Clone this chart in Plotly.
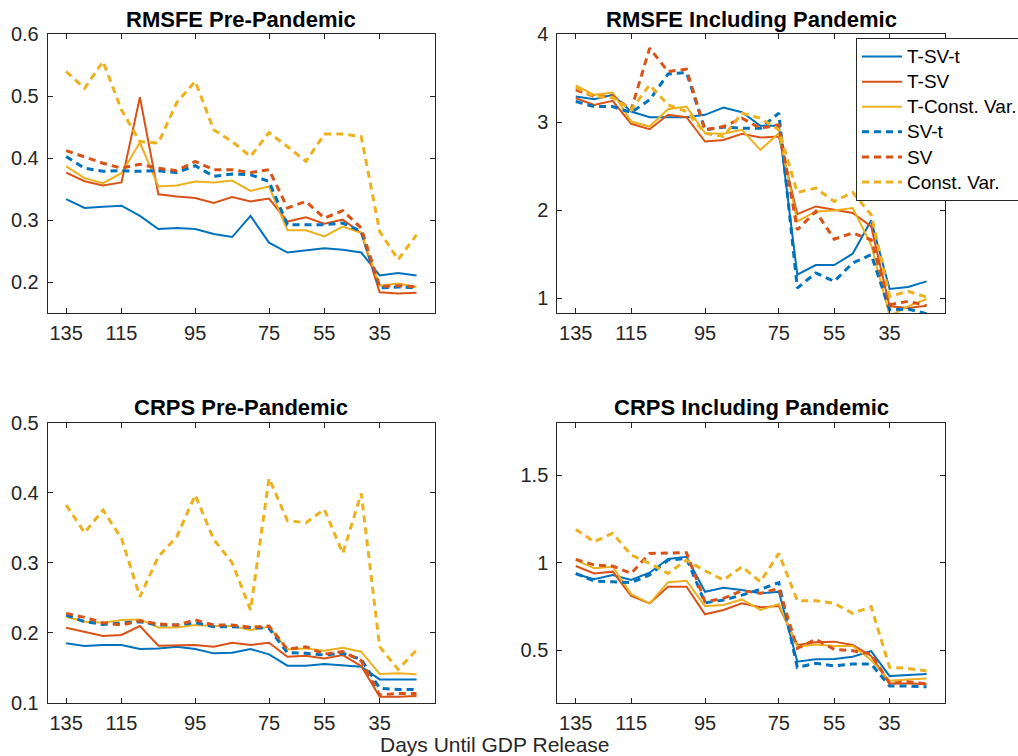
import plotly.graph_objects as go

# Forecast horizon: 20 nowcast origins, plotted by position
horizon_pos = list(range(1, 21))
tick_pos = [1, 4, 8, 12, 15, 18]
tick_days = ["135", "115", "95", "75", "55", "35"]

series_names = ["T-SV-t", "T-SV", "T-Const. Var.", "SV-t", "SV", "Const. Var."]

# RMSFE, pre-pandemic sample
rmsfe_pre_tsvt = [0.334, 0.320, 0.322, 0.3235, 0.307, 0.286, 0.2875, 0.286, 0.278, 0.273,
                  0.307, 0.264, 0.248, 0.2515, 0.255, 0.2525, 0.248, 0.211, 0.215, 0.211]
rmsfe_pre_tsv = [0.377, 0.363, 0.356, 0.361, 0.4985, 0.342, 0.3385, 0.336, 0.328, 0.3375,
                 0.3305, 0.335, 0.298, 0.305, 0.2945, 0.301, 0.2795, 0.184, 0.182, 0.183]
rmsfe_pre_tcv = [0.387, 0.368, 0.360, 0.376, 0.4255, 0.3545, 0.356, 0.3625, 0.361, 0.364,
                 0.3475, 0.3545, 0.284, 0.284, 0.274, 0.290, 0.2795, 0.1945, 0.198, 0.1925]
rmsfe_pre_svt = [0.403, 0.384, 0.379, 0.380, 0.379, 0.380, 0.377, 0.388, 0.371, 0.3745,
                 0.3735, 0.3625, 0.293, 0.293, 0.293, 0.2955, 0.282, 0.191, 0.1925, 0.191]
rmsfe_pre_sv = [0.4125, 0.402, 0.392, 0.384, 0.3905, 0.384, 0.380, 0.395, 0.3815, 0.3815,
                0.377, 0.3815, 0.320, 0.3305, 0.3035, 0.3155, 0.2875, 0.1935, 0.1945, 0.1925]
rmsfe_pre_cv = [0.540, 0.513, 0.556, 0.478, 0.427, 0.4245, 0.490, 0.524, 0.446, 0.427,
                0.403, 0.4415, 0.419, 0.395, 0.439, 0.439, 0.435, 0.282, 0.2365, 0.2765]

# RMSFE, sample including the pandemic
rmsfe_all_tsvt = [3.293, 3.263, 3.312, 3.123, 3.058, 3.058, 3.058, 3.085, 3.168, 3.115,
                  2.96, 2.96, 1.269, 1.378, 1.378, 1.507, 1.885, 1.106, 1.129, 1.193]
rmsfe_all_tsv = [3.274, 3.198, 3.244, 2.983, 2.922, 3.085, 3.058, 2.782, 2.80, 2.869,
                 2.827, 2.839, 1.957, 2.044, 2.006, 1.969, 1.817, 0.909, 0.89, 0.917]
rmsfe_all_tcv = [3.42, 3.312, 3.338, 3.009, 2.952, 3.149, 3.179, 2.877, 2.869, 2.915,
                 2.687, 2.877, 1.874, 1.987, 1.999, 2.025, 1.609, 0.80, 0.909, 0.992]
rmsfe_all_svt = [3.236, 3.179, 3.179, 3.111, 3.255, 3.55, 3.565, 2.915, 2.945, 2.933,
                 2.933, 3.104, 1.117, 1.288, 1.193, 1.401, 1.496, 0.871, 0.879, 0.826]
rmsfe_all_sv = [3.369, 3.293, 3.30, 3.141, 3.842, 3.577, 3.603, 2.915, 2.952, 3.047,
                2.933, 2.971, 1.779, 1.987, 1.673, 1.742, 1.666, 0.928, 0.966, 0.917]
rmsfe_all_cv = [3.399, 3.293, 3.281, 3.141, 3.425, 3.198, 3.123, 2.877, 2.839, 3.104,
                3.047, 2.915, 2.203, 2.252, 2.101, 2.203, 1.95, 1.023, 1.079, 1.015]

# CRPS, pre-pandemic sample
crps_pre_tsvt = [0.1848, 0.181, 0.1824, 0.1824, 0.1767, 0.1776, 0.180, 0.1767, 0.1705, 0.1714,
                 0.1767, 0.169, 0.1529, 0.1529, 0.1552, 0.1529, 0.1514, 0.1333, 0.1333, 0.1333]
crps_pre_tsv = [0.2071, 0.2014, 0.1952, 0.1967, 0.2095, 0.1814, 0.1814, 0.1824, 0.180, 0.1857,
                0.1824, 0.1857, 0.1657, 0.1671, 0.1633, 0.1681, 0.1524, 0.1086, 0.1086, 0.1095]
crps_pre_tcv = [0.2229, 0.2157, 0.2143, 0.2181, 0.219, 0.2076, 0.2076, 0.211, 0.2095, 0.2095,
                0.2038, 0.2086, 0.1762, 0.1776, 0.1743, 0.1786, 0.1729, 0.141, 0.1419, 0.1405]
crps_pre_svt = [0.2252, 0.2157, 0.2119, 0.2133, 0.2157, 0.211, 0.211, 0.2143, 0.2086, 0.2086,
                0.2076, 0.2062, 0.1714, 0.1705, 0.1681, 0.1705, 0.1619, 0.1205, 0.119, 0.119]
crps_pre_sv = [0.2276, 0.2219, 0.2143, 0.211, 0.2171, 0.2124, 0.211, 0.2181, 0.211, 0.211,
               0.2076, 0.2095, 0.1762, 0.180, 0.1695, 0.1729, 0.160, 0.111, 0.1133, 0.1133]
crps_pre_cv = [0.3824, 0.3429, 0.3752, 0.3348, 0.2514, 0.3086, 0.3371, 0.3967, 0.3333, 0.300,
               0.2324, 0.4205, 0.360, 0.3571, 0.3762, 0.3133, 0.399, 0.180, 0.1476, 0.1752]

# CRPS, sample including the pandemic
crps_all_tsvt = [0.935, 0.905, 0.93, 0.901, 0.943, 1.021, 1.034, 0.834, 0.857, 0.844,
                 0.825, 0.834, 0.434, 0.448, 0.45, 0.463, 0.495, 0.352, 0.358, 0.364]
crps_all_tsv = [0.981, 0.939, 0.949, 0.81, 0.768, 0.863, 0.863, 0.705, 0.73, 0.768,
                0.745, 0.752, 0.53, 0.545, 0.549, 0.53, 0.467, 0.31, 0.31, 0.307]
crps_all_tcv = [1.015, 0.968, 0.977, 0.821, 0.768, 0.888, 0.897, 0.752, 0.758, 0.79,
                0.73, 0.764, 0.52, 0.533, 0.524, 0.524, 0.444, 0.326, 0.333, 0.339]
crps_all_svt = [0.939, 0.895, 0.891, 0.886, 0.93, 1.015, 1.025, 0.771, 0.787, 0.815,
                0.848, 0.886, 0.402, 0.425, 0.41, 0.421, 0.421, 0.295, 0.295, 0.291]
crps_all_sv = [1.019, 0.987, 0.981, 0.939, 1.053, 1.057, 1.057, 0.777, 0.796, 0.84,
               0.825, 0.853, 0.51, 0.562, 0.505, 0.497, 0.478, 0.31, 0.32, 0.307]
crps_all_cv = [1.19, 1.12, 1.168, 1.044, 0.996, 0.939, 1.015, 0.954, 0.901, 0.977,
               0.891, 1.053, 0.783, 0.783, 0.768, 0.71, 0.749, 0.402, 0.396, 0.381]

panel_titles = ["RMSFE Pre-Pandemic", "RMSFE Including Pandemic",
                "CRPS Pre-Pandemic", "CRPS Including Pandemic"]

panels = [
    [rmsfe_pre_tsvt, rmsfe_pre_tsv, rmsfe_pre_tcv, rmsfe_pre_svt, rmsfe_pre_sv, rmsfe_pre_cv],
    [rmsfe_all_tsvt, rmsfe_all_tsv, rmsfe_all_tcv, rmsfe_all_svt, rmsfe_all_sv, rmsfe_all_cv],
    [crps_pre_tsvt, crps_pre_tsv, crps_pre_tcv, crps_pre_svt, crps_pre_sv, crps_pre_cv],
    [crps_all_tsvt, crps_all_tsv, crps_all_tcv, crps_all_svt, crps_all_sv, crps_all_cv],
]

colors = ["#0072BD", "#D95319", "#EDB120", "#0072BD", "#D95319", "#EDB120"]
dashes = ["solid", "solid", "solid", "7px,5px", "7px,5px", "7px,5px"]
widths = [2.0, 2.0, 2.0, 3.0, 3.0, 3.0]

W, H = 1018, 756
# axes boxes in pixels: (left, right, top, bottom)
boxes = [(47.7, 435.0, 34.3, 313.3), (557.3, 945.0, 34.3, 313.3),
         (47.7, 435.0, 422.7, 702.7), (557.3, 945.0, 422.7, 702.7)]
y_ranges = [[0.15, 0.6], [0.83, 4.0], [0.1, 0.5], [0.2, 1.8]]
y_dticks = [0.1, 1, 0.1, 0.5]
y_tick0 = [0.2, 1, 0.1, 0.5]

FONT = "Liberation Sans, Arial, Helvetica, sans-serif"
AX_COLOR = "#262626"

fig = go.Figure()
layout = dict(
    width=W, height=H,
    margin=dict(l=0, r=0, t=0, b=0, autoexpand=False),
    paper_bgcolor="white", plot_bgcolor="white",
    font=dict(family=FONT, color=AX_COLOR, size=20),
    showlegend=True,
    # compact rows (17px metrics) with slightly larger label glyphs
    legend=dict(x=856 / W, y=1 - 38 / H, xanchor="left", yanchor="top",
                bgcolor="white", bordercolor=AX_COLOR, borderwidth=1,
                font=dict(family=FONT, size=17, color="black"),
                itemwidth=40, tracegroupgap=0),
)

annotations = []
for p, (series, box) in enumerate(zip(panels, boxes)):
    k = "" if p == 0 else str(p + 1)
    l, r, t, b = box
    for s, vals in enumerate(series):
        fig.add_trace(go.Scatter(
            x=horizon_pos, y=vals, mode="lines",
            name='<span style="font-size:19px">' + series_names[s] + "</span>",
            line=dict(color=colors[s], dash=dashes[s], width=widths[s]),
            xaxis="x" + k, yaxis="y" + k, showlegend=(p == 1),
        ))
    layout["xaxis" + k] = dict(
        domain=[l / W, r / W], anchor="y" + k, range=[0, 21],
        tickmode="array", tickvals=tick_pos, ticktext=tick_days,
        ticks="inside", ticklen=5, tickcolor=AX_COLOR, tickwidth=1,
        showline=True, linecolor=AX_COLOR, linewidth=1, mirror="ticks",
        showgrid=False, zeroline=False, tickfont=dict(size=20, color=AX_COLOR),
        ticklabelstandoff=2,
    )
    layout["yaxis" + k] = dict(
        domain=[1 - b / H, 1 - t / H], anchor="x" + k, range=y_ranges[p],
        tick0=y_tick0[p], dtick=y_dticks[p],
        ticks="inside", ticklen=5, tickcolor=AX_COLOR, tickwidth=1,
        showline=True, linecolor=AX_COLOR, linewidth=1, mirror="ticks",
        showgrid=False, zeroline=False, tickfont=dict(size=20, color=AX_COLOR),
        ticklabelstandoff=4,
    )
    annotations.append(dict(
        text="<b>" + panel_titles[p] + "</b>", x=(l + r) / 2 / W, y=1 - (t - 15) / H,
        xref="paper", yref="paper", xanchor="center", yanchor="middle",
        showarrow=False, font=dict(family=FONT, size=22, color="black"),
    ))

annotations.append(dict(
    text="Days Until GDP Release", x=495 / W, y=1 - 744 / H,
    xref="paper", yref="paper", xanchor="center", yanchor="middle",
    showarrow=False, font=dict(family=FONT, size=21, color=AX_COLOR),
))
layout["annotations"] = annotations
fig.update_layout(**layout)
fig.write_html("out.html")
